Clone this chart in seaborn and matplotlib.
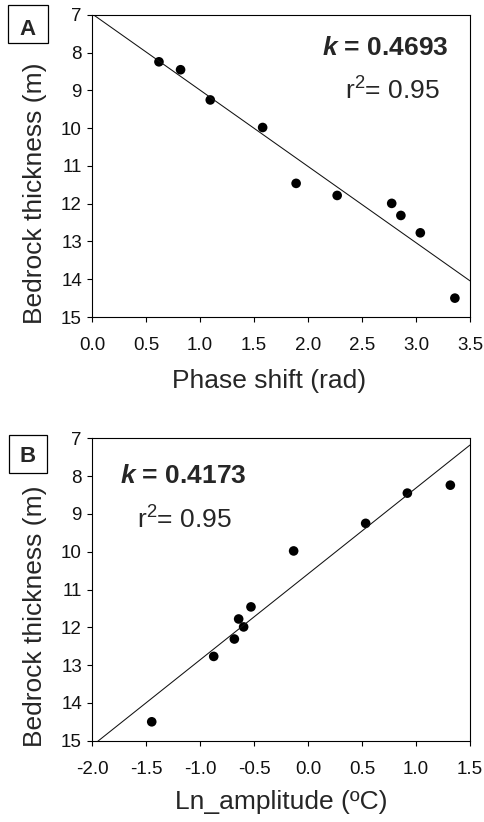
import numpy as np
import pandas as pd
import matplotlib
matplotlib.use('Agg')
import matplotlib.pyplot as plt
from matplotlib.patches import Rectangle
import seaborn as sns

# bedrock thickness (m) for each site
thickness = [8.24, 8.45, 9.25, 9.98, 11.46, 11.78, 11.99, 12.31, 12.77, 14.50]
# panel A: phase shift (rad)
phase_shift = [0.62, 0.82, 1.095, 1.58, 1.89, 2.27, 2.775, 2.86, 3.04, 3.36]
# panel B: ln amplitude (oC)
ln_amplitude = [1.318, 0.92, 0.534, -0.133, -0.528, -0.642, -0.596, -0.682, -0.873, -1.447]

y_ticks = [7, 8, 9, 10, 11, 12, 13, 14, 15]
x_ticks_a = [0.0, 0.5, 1.0, 1.5, 2.0, 2.5, 3.0, 3.5]
x_ticks_b = [-2.0, -1.5, -1.0, -0.5, 0.0, 0.5, 1.0, 1.5]

df_a = pd.DataFrame({'phase': phase_shift, 'thick': thickness})
df_b = pd.DataFrame({'lnamp': ln_amplitude, 'thick': thickness})

sns.set_style('ticks')
plt.rcParams['font.family'] = ['Liberation Sans', 'DejaVu Sans']
plt.rcParams['mathtext.fontset'] = 'custom'
plt.rcParams['mathtext.rm'] = 'Liberation Sans'
plt.rcParams['mathtext.it'] = 'Liberation Sans:italic'
plt.rcParams['mathtext.bf'] = 'Liberation Sans:bold'
plt.rcParams['mathtext.bfit'] = 'Liberation Sans:italic:bold'

W, H = 485, 822
fig = plt.figure(figsize=(W / 100, H / 100), dpi=100)
ax_a = fig.add_axes([92 / W, 1 - 317 / H, 378 / W, 302 / H])
ax_b = fig.add_axes([92 / W, 1 - 740.7 / H, 378 / W, 302.4 / H])


def draw_panel(ax, data, xcol, xticks, xlabel, xlab_x, xlab_y):
    ax.set_xlim(xticks[0], xticks[-1])
    sns.regplot(data=data, x=xcol, y='thick', ax=ax, ci=None, truncate=False,
                scatter_kws={'s': 48, 'color': 'black', 'alpha': 1,
                             'edgecolors': 'none'},
                line_kws={'color': '#111111', 'lw': 0.75})
    ax.set_xlim(xticks[0], xticks[-1])
    ax.set_ylim(15, 7)
    ax.set_xticks(xticks)
    ax.set_xticklabels([f'{t:.1f}' for t in xticks])
    ax.set_yticks(y_ticks)
    ax.tick_params(labelsize=13.5, direction='out', length=3.6, width=0.8,
                   color='black', labelcolor='#111111')
    ax.tick_params(axis='x', pad=11)
    ax.tick_params(axis='y', pad=3.6)
    for s in ax.spines.values():
        s.set_visible(True)
        s.set_color('black')
        s.set_linewidth(0.8)
    ax.set_xlabel(xlabel, fontsize=19)
    ax.set_ylabel('Bedrock thickness (m)', fontsize=19)
    ax.xaxis.set_label_coords(xlab_x, xlab_y)
    ax.yaxis.set_label_coords(-0.119, 0.41)


draw_panel(ax_a, df_a, 'phase', x_ticks_a, 'Phase shift (rad)', 0.468, -0.172)
draw_panel(ax_b, df_b, 'lnamp', x_ticks_b, 'Ln_amplitude (ºC)', 0.5, -0.163)

ax_a.text(0.944, 0.868, r'$\mathbfit{k}$ = 0.4693', transform=ax_a.transAxes,
          ha='right', va='baseline', fontsize=19, fontweight='bold')
ax_a.text(0.669, 0.719, r'r$^2$= 0.95', transform=ax_a.transAxes,
          ha='left', va='baseline', fontsize=19)
ax_b.text(0.074, 0.851, r'$\mathbfit{k}$ = 0.4173', transform=ax_b.transAxes,
          ha='left', va='baseline', fontsize=19, fontweight='bold')
ax_b.text(0.118, 0.703, r'r$^2$= 0.95', transform=ax_b.transAxes,
          ha='left', va='baseline', fontsize=19)

# panel letters in boxes
for label, x0, y0, w, h, base in [('A', 8, 5, 40, 38, 35), ('B', 9, 435, 38, 38, 461.5)]:
    fig.add_artist(Rectangle((x0 / W, 1 - (y0 + h) / H), w / W, h / H,
                             transform=fig.transFigure, facecolor='white',
                             edgecolor='black', lw=0.9))
    fig.text((x0 + w / 2) / W, 1 - base / H, label, ha='center', va='baseline',
             fontsize=16, fontweight='bold')

fig.savefig('out.png', dpi=100)
